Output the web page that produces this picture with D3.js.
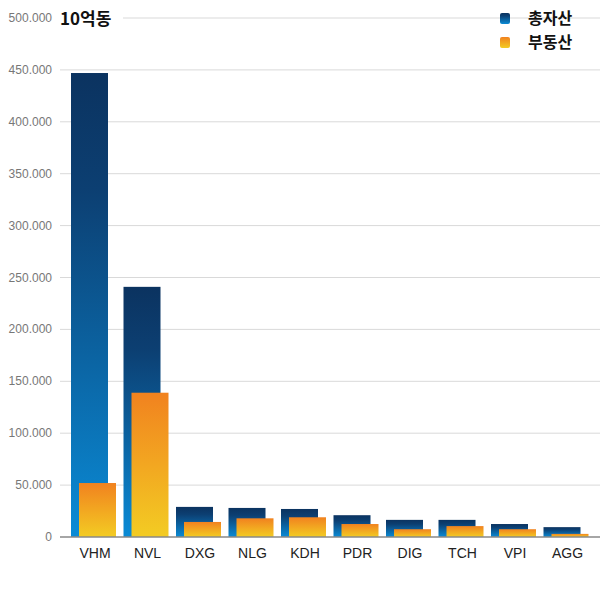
<!DOCTYPE html>
<html><head><meta charset="utf-8">
<script src="https://d3js.org/d3.v7.min.js"></script>
<style>body{margin:0;background:#fff}</style></head>
<body><svg id="c" width="600" height="600"></svg>
<script>
const categories=["VHM","NVL","DXG","NLG","KDH","PDR","DIG","TCH","VPI","AGG"];
const totalAssets=[447000,241000,29000,28000,27000,21000,16500,16500,12500,9500];
const realEstate=[52000,139000,14500,18000,19000,12500,7500,10500,7500,3000];
const yTicks=[0,50000,100000,150000,200000,250000,300000,350000,400000,450000,500000];
const seriesNames=["총자산","부동산"];

const svg=d3.select("#c");
const defs=svg.append("defs");
const gb=defs.append("linearGradient").attr("id","gb").attr("x1",0).attr("y1",0).attr("x2",0).attr("y2",1);
gb.append("stop").attr("offset","0%").attr("stop-color","#0b3360");
gb.append("stop").attr("offset","25%").attr("stop-color","#0c3f72");
gb.append("stop").attr("offset","100%").attr("stop-color","#0a8bd6");
const go=defs.append("linearGradient").attr("id","go").attr("x1",0).attr("y1",0).attr("x2",0).attr("y2",1);
go.append("stop").attr("offset","0%").attr("stop-color","#f1821f");
go.append("stop").attr("offset","100%").attr("stop-color","#f3cc23");

const y=d3.scaleLinear().domain([0,500000]).range([537,18]);
const x=d3.scaleBand().domain(categories).range([62,587]);

const g=svg.append("g");
g.selectAll("line.grid").data(yTicks.slice(1)).join("line")
 .attr("x1",60).attr("x2",600).attr("y1",d=>y(d)).attr("y2",d=>y(d))
 .attr("stroke","#d9d9d9").attr("stroke-width",1);
g.selectAll("text.yt").data(yTicks).join("text")
 .attr("x",52).attr("y",d=>y(d)+4).attr("text-anchor","end")
 .attr("font-family","Liberation Sans, Arial").attr("font-size",12).attr("fill","#777")
 .text(d=>d===0?"0":(d/1000).toFixed(0)+".000");

g.selectAll("rect.t").data(categories).join("rect")
 .attr("x",d=>x(d)+9).attr("width",37)
 .attr("y",(d,i)=>y(totalAssets[i])).attr("height",(d,i)=>y(0)-y(totalAssets[i]))
 .attr("fill","url(#gb)");
g.selectAll("rect.r").data(categories).join("rect")
 .attr("x",d=>x(d)+17).attr("width",37)
 .attr("y",(d,i)=>y(realEstate[i])).attr("height",(d,i)=>y(0)-y(realEstate[i]))
 .attr("fill","url(#go)");

g.append("line").attr("x1",60).attr("x2",600).attr("y1",y(0)).attr("y2",y(0)).attr("stroke","#888").attr("stroke-width",1.5);
g.selectAll("text.xt").data(categories).join("text")
 .attr("x",d=>x(d)+33).attr("y",558).attr("text-anchor","middle")
 .attr("font-family","Liberation Sans, Arial").attr("font-size",14).attr("fill","#222")
 .text(d=>d);

svg.append("rect").attr("x",57).attr("y",8).attr("width",66).attr("height",22).attr("fill","#fff");
svg.append("text").attr("x",60).attr("y",25).attr("font-family","Noto Sans CJK KR").attr("font-weight","bold")
 .attr("font-size",17).attr("fill","#111").text("10억동");

const leg=svg.append("g");
[["url(#gb)",0],["url(#go)",1]].forEach(([f,i])=>{
 leg.append("rect").attr("x",500).attr("y",13+i*24).attr("width",10).attr("height",11).attr("rx",2).attr("fill",f);
 leg.append("text").attr("x",528).attr("y",24+i*24).attr("font-family","Noto Sans CJK KR").attr("font-weight","bold")
  .attr("font-size",16).attr("fill","#111").text(seriesNames[i]);
});
</script></body></html>
